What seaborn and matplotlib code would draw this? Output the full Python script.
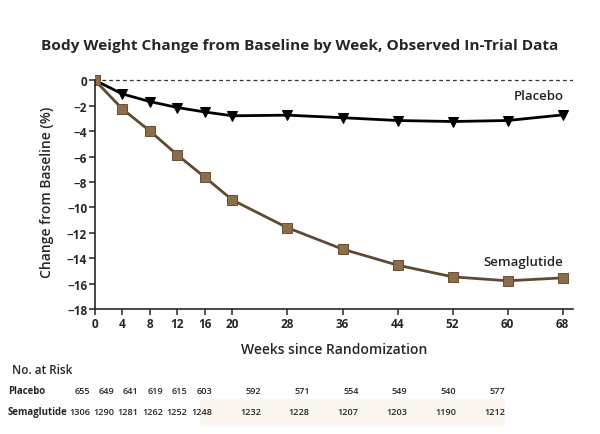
import numpy as np
import pandas as pd
import matplotlib.pyplot as plt
import seaborn as sns

# values
weeks = [0, 4, 8, 12, 16, 20, 28, 36, 44, 52, 60, 68]
placebo = [0, -1.08, -1.68, -2.15, -2.5, -2.8, -2.75, -2.95, -3.17, -3.25, -3.17, -2.73]
semaglutide = [0, -2.26, -3.99, -5.88, -7.63, -9.42, -11.6, -13.28, -14.54, -15.46, -15.77, -15.54]
risk_placebo = [655, 649, 641, 619, 615, 603, 592, 571, 554, 549, 540, 577]
risk_sema = [1306, 1290, 1281, 1262, 1252, 1248, 1232, 1228, 1207, 1203, 1190, 1212]
yticks = list(range(0, -20, -2))

df = pd.DataFrame({
    "week": weeks * 2,
    "change": placebo + semaglutide,
    "group": ["Placebo"] * len(weeks) + ["Semaglutide"] * len(weeks),
})

sns.set_style("ticks")
plt.rcParams["font.family"] = ["Open Sans", "DejaVu Sans"]
plt.rcParams["font.weight"] = "semibold"

fig = plt.figure(figsize=(6, 4.35), dpi=100)
ax = fig.add_axes([0.158, 0.287, 0.797, 0.541])

sema_col = "#5e4a33"
sns.lineplot(data=df[df.group == "Placebo"], x="week", y="change", ax=ax,
             color="black", lw=2, marker="v", markersize=7,
             markeredgecolor="black", markerfacecolor="black")
sns.lineplot(data=df[df.group == "Semaglutide"], x="week", y="change", ax=ax,
             color=sema_col, lw=2, marker="s", markersize=6.5,
             markeredgecolor="#6a5238", markerfacecolor="#8d6e4c")

ax.axhline(0, color="#333333", lw=0.9, ls=(0, (3, 2.5)), zorder=0)

ax.set_xlim(0, 69.5)
ax.set_ylim(-18, 0.5)
ax.set_xticks(weeks)
ax.set_yticks(yticks)
ax.set_yticklabels([str(t).replace("-", "\u2212") for t in yticks])
ax.spines[["top", "right"]].set_visible(False)
ax.spines["left"].set_bounds(-18, 0)
ax.spines["left"].set_linewidth(1.2)
ax.spines["bottom"].set_linewidth(1.2)
ax.tick_params(length=4, width=1.1, labelsize=8.5, pad=1.5)
for lab in ax.get_xticklabels() + ax.get_yticklabels():
    lab.set_fontweight("bold")

ax.set_xlabel("Weeks since Randomization", fontsize=10, fontweight="semibold", labelpad=9)
ax.set_ylabel("Change from Baseline (%)", fontsize=10, fontweight="semibold", labelpad=9)

ax.text(68.1, -1.2, "Placebo", ha="right", va="center", fontsize=9.5, fontweight="semibold", color="#222222")
ax.text(68.1, -14.25, "Semaglutide", ha="right", va="center", fontsize=9.5, fontweight="semibold", color="#222222")

fig.text(0.5, 0.895, "Body Weight Change from Baseline by Week, Observed In-Trial Data",
         ha="center", va="center", fontsize=11.1, fontweight="bold")

# number at risk table
tax = fig.add_axes([90 / 600, 0.0, (505 - 90) / 600, 0.2])
tax.set_xlim(0, 68)
tax.set_ylim(0, 1)
tax.axis("off")
tax.axvspan(18, 70, ymin=0.1, ymax=0.4, color="#fbf6ef", zorder=0)
for w, p, s in zip(weeks, risk_placebo, risk_sema):
    tax.text(w, 0.495, str(p), ha="right", va="center", fontsize=6.6, fontweight="semibold")
    tax.text(w, 0.253, str(s), ha="right", va="center", fontsize=6.6, fontweight="semibold")
fig.text(12 / 600, 1 - 371 / 435, "No. at Risk", ha="left", va="center", fontsize=8.5, fontweight="semibold")
fig.text(8 / 600, 1 - 392 / 435, "Placebo", ha="left", va="center", fontsize=6.9, fontweight="bold")
fig.text(8 / 600, 1 - 413 / 435, "Semaglutide", ha="left", va="center", fontsize=6.9, fontweight="bold")

fig.savefig("out.png", dpi=100, facecolor="white")
